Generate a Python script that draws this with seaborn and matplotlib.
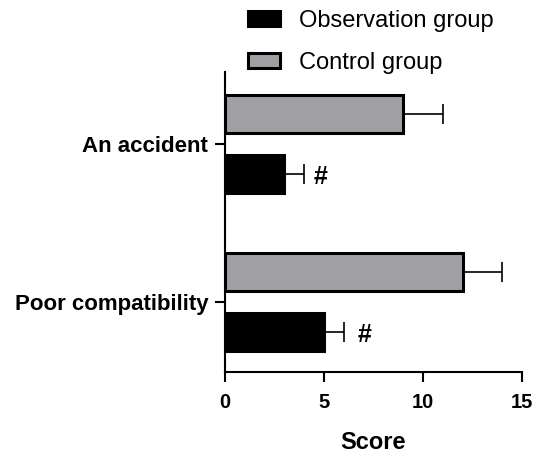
import matplotlib
matplotlib.use("Agg")
import matplotlib.pyplot as plt
import seaborn as sns
import pandas as pd
import numpy as np

# Scores per event type and group (mean, upper error)
categories = ["An accident", "Poor compatibility"]
groups = ["Control group", "Observation group"]
control_scores = [9, 12]
control_err = [2, 2]
observation_scores = [3, 5]
observation_err = [1, 1]
marks = ["#", "#"]

df = pd.DataFrame({
    "Event": categories * 2,
    "Group": [groups[0]] * 2 + [groups[1]] * 2,
    "Score": control_scores + observation_scores,
})
errs = {groups[0]: control_err, groups[1]: observation_err}

sns.set_style("ticks", {"axes.edgecolor": "black", "text.color": "black",
                        "xtick.color": "black", "ytick.color": "black",
                        "axes.labelcolor": "black"})
plt.rcParams["font.family"] = ["Liberation Sans", "DejaVu Sans"]

fig = plt.figure(figsize=(5.36, 4.53), dpi=100)
ax = fig.add_axes([225 / 536, 1 - 372 / 453, 297 / 536, 300 / 453])

palette = {groups[0]: "#a0a0a4", groups[1]: "#000000"}
sns.barplot(data=df, y="Event", x="Score", hue="Group", order=categories,
            hue_order=groups, palette=palette, orient="h", errorbar=None,
            width=0.76, gap=0.37, edgecolor="black", linewidth=2.2,
            saturation=1, ax=ax)

# One-sided error bars and significance marks
for cont, g in zip(ax.containers, groups):
    for i, bar in enumerate(cont):
        y = bar.get_y() + bar.get_height() / 2
        x = bar.get_width()
        e = errs[g][i]
        ax.errorbar(x, y, xerr=[[0], [e]], fmt="none", ecolor="black",
                    elinewidth=1.2, capsize=7, capthick=1.2, zorder=3)
        if g == groups[1]:
            off = 12 if i == 0 else 15
            ax.annotate(marks[i], (x + e, y), xytext=(off, -2),
                        textcoords="offset points", ha="center", va="center",
                        fontsize=18, fontweight="bold", color="black")

ax.set_xlim(0, 15)
ax.set_ylim(1.443, -0.456)
ax.set_xticks([0, 5, 10, 15])
ax.set_ylabel("")
ax.set_xlabel("Score", fontsize=17, fontweight="bold", labelpad=14,
              color="black")
for lab in ax.get_xticklabels() + ax.get_yticklabels():
    lab.set_fontweight("bold")
ax.tick_params(axis="x", labelsize=14.5, width=1.5, length=7, pad=8,
               colors="black")
ax.tick_params(axis="y", labelsize=16, width=1.5, length=7, pad=5,
               colors="black")
for s in ["left", "bottom"]:
    ax.spines[s].set_linewidth(1.5)
    ax.spines[s].set_color("black")
sns.despine(ax=ax)

# Legend: observation first, then control
ax.get_legend().remove()
handles = [ax.containers[1][0], ax.containers[0][0]]
leg = fig.legend(handles, [groups[1], groups[0]], loc="upper left",
                 bbox_to_anchor=(248 / 536, 0.978), frameon=False,
                 fontsize=17, handlelength=1.36, handleheight=0.6,
                 handletextpad=0.8, labelspacing=0.84, borderpad=0,
                 borderaxespad=0)
for h in leg.legend_handles:
    h.set_linewidth(2.2)
for t in leg.get_texts():
    t.set_color("black")

fig.savefig("out.png", dpi=100)
